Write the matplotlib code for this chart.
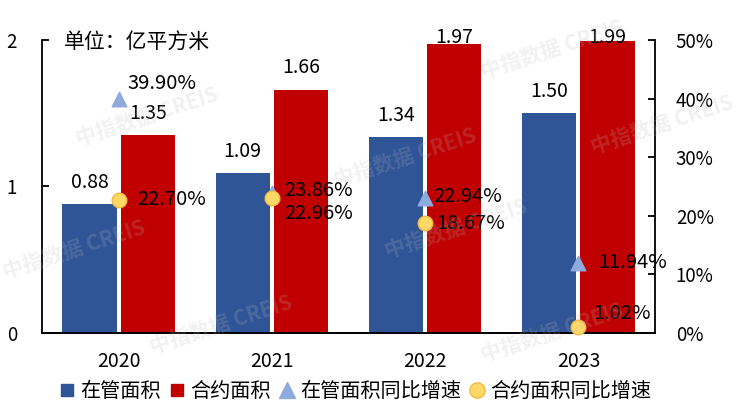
import matplotlib
matplotlib.use("Agg")
import matplotlib.pyplot as plt
from matplotlib.lines import Line2D
import numpy as np

plt.rcParams['font.family'] = ['Noto Sans CJK SC', 'DejaVu Sans']

years = ['2020', '2021', '2022', '2023']
managed_area = [0.88, 1.09, 1.34, 1.50]      # 在管面积
contract_area = [1.35, 1.66, 1.97, 1.99]     # 合约面积
managed_growth = [39.90, 23.86, 22.94, 11.94]   # 在管面积同比增速 (%)
contract_growth = [22.70, 22.96, 18.67, 1.02]   # 合约面积同比增速 (%)

blue = '#2F5597'
red = '#C00000'
tri_color = '#8FAADC'
dot_color = '#FFD966'
dot_edge = '#F4B942'

fig = plt.figure(figsize=(7.36, 4.16), dpi=100)
ax = fig.add_axes([0.057, 0.2, 0.833, 0.704])
ax2 = ax.twinx()

x = np.arange(len(years))
w = 0.355
off = 0.19
ax.bar(x - off, managed_area, w, color=blue, zorder=2)
ax.bar(x + off, contract_area, w, color=red, zorder=2)

for xi, v in zip(x - off, managed_area):
    ax.text(xi, min(v + 0.145, 2.02), f'{v:.2f}', ha='center', va='center', fontsize=14, zorder=5)
for xi, v in zip(x + off, contract_area):
    ax.text(xi, min(v + 0.15, 2.02), f'{v:.2f}', ha='center', va='center', fontsize=14, zorder=5)

ax.set_xlim(-0.5, 3.5)
ax.set_ylim(0, 2)
ax.set_yticks([0, 1, 2])
ax.set_xticks(x)
ax.set_xticklabels(years)
ax.tick_params(axis='y', direction='in', length=5, width=1.3, labelsize=13.5, pad=18)
ax.tick_params(axis='x', length=0, labelsize=14, pad=13)
ax.spines['top'].set_visible(False)
ax.spines['right'].set_visible(False)
ax.spines['left'].set_linewidth(1.3)
ax.spines['bottom'].set_linewidth(1.3)

ax2.set_ylim(0, 50)
ax2.set_yticks(range(0, 51, 10))
ax2.set_yticklabels([f'{t}%' for t in range(0, 51, 10)])
ax2.tick_params(axis='y', direction='in', length=5, width=1.3, labelsize=13.5, pad=15)
ax2.spines['top'].set_visible(False)
ax2.spines['left'].set_visible(False)
ax2.spines['right'].set_linewidth(1.3)
ax2.spines['bottom'].set_linewidth(1.3)

ax2.scatter(x, managed_growth, marker='^', s=110, color=tri_color, zorder=4, clip_on=False)
ax2.scatter(x, contract_growth, marker='o', s=110, color=dot_color, edgecolors=dot_edge,
            linewidths=1, zorder=5, clip_on=False)

# percent labels, placed as in the source
tri_dy = [2.6, 0.4, 0.3, 0.1]
dot_dy = [0, -2.6, 0, 2.2]
tri_dx = [0.06, 0.08, 0.05, 0.13]
dot_dx = [0.12, 0.08, 0.07, 0.1]
for i in range(len(years)):
    ax2.text(x[i] + tri_dx[i], managed_growth[i] + tri_dy[i], f'{managed_growth[i]:.2f}%',
             ha='left', va='center', fontsize=14.5, zorder=6)
    ax2.text(x[i] + dot_dx[i], contract_growth[i] + dot_dy[i], f'{contract_growth[i]:.2f}%',
             ha='left', va='center', fontsize=14.5, zorder=6)

ax.text(0.036, 0.995, '单位：亿平方米', transform=ax.transAxes, ha='left', va='center', fontsize=15)

# watermarks
for (wx, wy) in [(0.75, 0.88), (0.2, 0.72), (0.55, 0.62), (0.9, 0.7),
                 (0.1, 0.4), (0.62, 0.45), (0.3, 0.22), (0.75, 0.2)]:
    fig.text(wx, wy, '中指数据 CREIS', fontsize=15, fontweight='bold', color='#BBBBBB',
             alpha=0.2, rotation=18, ha='center', va='center', zorder=10)

handles = [
    Line2D([], [], marker='s', linestyle='none', markersize=9, color=blue),
    Line2D([], [], marker='s', linestyle='none', markersize=9, color=red),
    Line2D([], [], marker='^', linestyle='none', markersize=11, color=tri_color),
    Line2D([], [], marker='o', linestyle='none', markersize=11, color=dot_color, markeredgecolor=dot_edge),
]
fig.legend(handles, ['在管面积', '合约面积', '在管面积同比增速', '合约面积同比增速'],
           loc='center', bbox_to_anchor=(0.482, 0.058), ncol=4, frameon=False, fontsize=14.5,
           handletextpad=0.2, columnspacing=0.35, handlelength=0.9)

fig.savefig('out.png', dpi=100)
